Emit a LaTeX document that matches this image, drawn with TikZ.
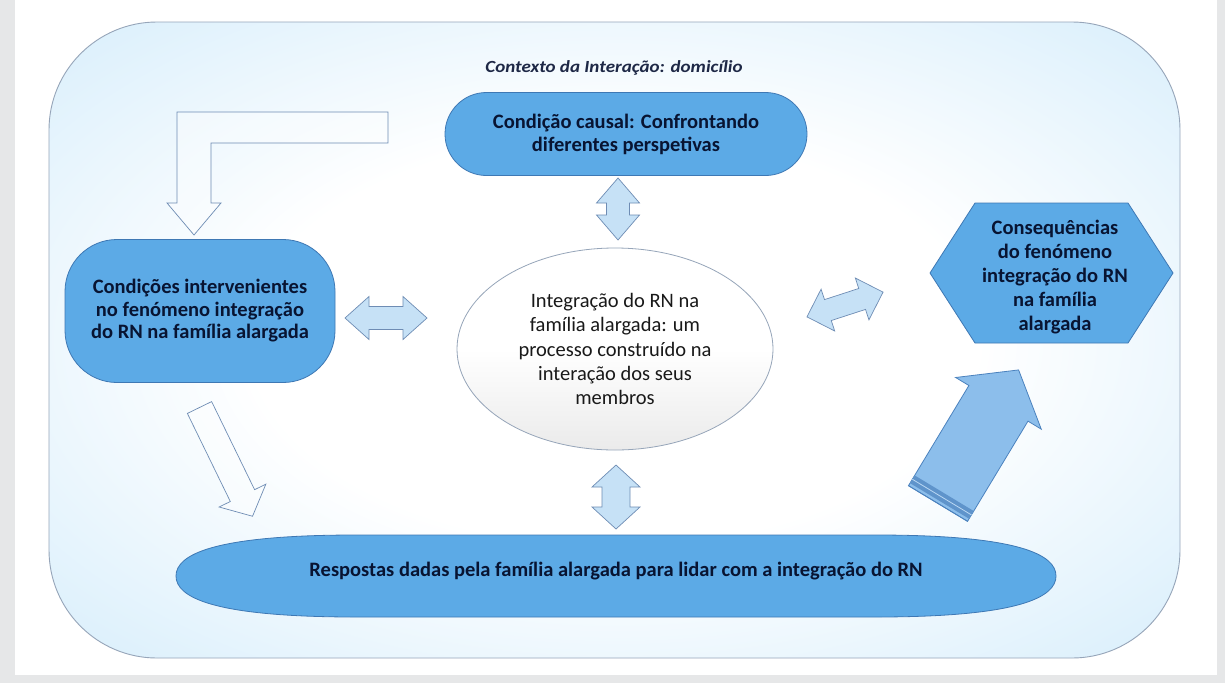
\documentclass[tikz,border=0pt]{standalone}
\usepackage{fontspec}
\setmainfont{Carlito}
\newfontfamily\titlefont{Carlito}[FakeStretch=1.12]
\usetikzlibrary{shapes.geometric}
\definecolor{bggrey}{RGB}{230,231,232}
\definecolor{ctxblue}{RGB}{188,226,249}
\definecolor{ctxline}{RGB}{150,165,185}
\definecolor{nodeblue}{RGB}{92,170,230}
\definecolor{nodeline}{RGB}{62,120,180}
\definecolor{navy}{RGB}{8,20,50}
\definecolor{arrfill}{RGB}{198,225,246}
\definecolor{arrline}{RGB}{110,140,180}
\definecolor{bigfill}{RGB}{140,190,235}
\definecolor{bigline}{RGB}{75,130,190}
\definecolor{titlecol}{RGB}{30,40,70}
\pgfdeclareradialshading{ctxshade}{\pgfpointorigin}{color(0bp)=(white); color(16bp)=(white); color(50bp)=(ctxblue); color(80bp)=(ctxblue)}
\newcommand{\dblarrow}[8]{%
  \begin{scope}[shift={(#1,#2)},rotate=#3]
    \pgfmathsetmacro\hl{#4/2}
    \pgfmathsetmacro\hb{#4/2-#7}
    \draw[#8] (-\hl,0) -- (-\hb,-#6) -- (-\hb,-#5) -- (\hb,-#5) -- (\hb,-#6) -- (\hl,0)
      -- (\hb,#6) -- (\hb,#5) -- (-\hb,#5) -- (-\hb,#6) -- cycle;
  \end{scope}}
\newcommand{\sglarrow}[8]{%
  \begin{scope}[shift={(#1,#2)},rotate=#3]
    \pgfmathsetmacro\hb{#4-#7}
    \draw[#8] (0,-#5) -- (\hb,-#5) -- (\hb,-#6) -- (#4,0) -- (\hb,#6) -- (\hb,#5) -- (0,#5) -- cycle;
  \end{scope}}
\tikzset{
  bluebox/.style={fill=nodeblue, draw=nodeline, line width=0.8pt},
  boxtext/.style={text=navy, align=center, font=\bfseries\fontsize{20.5}{#1}\selectfont},
  lightarrow/.style={fill=arrfill, draw=arrline, line width=0.7pt},
  outlinearrow/.style={fill=white, fill opacity=0.35, draw=arrline, draw opacity=1, line width=0.7pt},
  bigarrow/.style={fill=bigfill, draw=bigline, line width=0.8pt}
}
\begin{document}
\begin{tikzpicture}[x=1pt,y=-1pt]
\useasboundingbox (0,0) rectangle (1225,683);
\fill[bggrey] (0,0) rectangle (1225,683);
\fill[white] (15,0) rectangle (1217,675);
% context frame
\path[shading=ctxshade, draw=ctxline, line width=0.9pt, rounded corners=108] (49,22) rectangle (1180,658);
\node[text=titlecol, font=\titlefont\bfseries\itshape\fontsize{17}{20}\selectfont] (title) at (614,68) {Contexto da Interação: domicílio};
% causal condition
\node[bluebox, rounded corners=41.5, minimum width=362, minimum height=83, inner sep=0,
      boxtext=23] (causal) at (626,134) {Condição causal: Confrontando\\diferentes perspetivas};
% intervening conditions
\node[bluebox, rounded corners=52, minimum width=270, minimum height=143, inner sep=0,
      boxtext=22.5] (cond) at (200,311) {Condições intervenientes\\no fenómeno integração\\do RN na família alargada};
% central phenomenon
\node[ellipse, draw=ctxline, line width=0.8pt, top color=white, bottom color=black!8, middle color=white,
      minimum width=316, minimum height=202, inner sep=0, align=center, text={rgb,255:red,25;green,25;blue,25},
      font=\fontsize{20.5}{24.3}\selectfont] (center) at (615,349)
      {Integração do RN na\\família alargada: um\\processo construído na\\interação dos seus\\membros};
% consequences hexagon
\path[bluebox] (930,273) -- (975,203) -- (1128,203) -- (1173,273) -- (1128,343) -- (975,343) -- cycle;
\node[boxtext=24.2] (cons) at (1055,277) {Consequências\\do fenómeno\\integração do RN\\na família\\alargada};
% responses
\path[bluebox] (356,535) -- (876,535)
  .. controls (1020,535) and (1056,555) .. (1056,576)
  .. controls (1056,597) and (1020,617) .. (876,617)
  -- (356,617)
  .. controls (212,617) and (176,597) .. (176,576)
  .. controls (176,555) and (212,535) .. (356,535) -- cycle;
\node[boxtext=23] (resp) at (616,571) {Respostas dadas pela família alargada para lidar com a integração do RN};
% bent arrow into intervening conditions
\draw[outlinearrow] (388,112) -- (177,112) -- (177,203) -- (167,203) -- (194,235) -- (221,203)
  -- (211,203) -- (211,143) -- (388,143) -- cycle;
% diagonal outline arrow towards responses
\sglarrow{199.5}{407.5}{-64}{121}{13.5}{26}{23}{outlinearrow}
% double arrows
\dblarrow{618}{209}{90}{62}{11.5}{21.5}{25}{lightarrow}
\dblarrow{386}{318}{0}{82}{11.5}{21.5}{24}{lightarrow}
\dblarrow{616}{497}{90}{64}{14}{24}{22}{lightarrow}
\dblarrow{845}{304.5}{18}{80}{11}{22}{22}{lightarrow}
% big arrow to consequences
\begin{scope}[shift={(938,503.5)},rotate=58.9]
  \draw[bigarrow] (0,-34.5) -- (117,-34.5) -- (117,-50) -- (156,0) -- (117,50) -- (117,34.5) -- (0,34.5) -- cycle;
  \fill[bigline!70!bigfill] (3,-34.5) rectangle (12,34.5);
  \draw[bigfill!60!white, line width=0.8pt] (7.5,-34.5) -- (7.5,34.5);
  \draw[bigline, line width=0.8pt] (0,-34.5) -- (0,34.5);
\end{scope}
\end{tikzpicture}
\end{document}
